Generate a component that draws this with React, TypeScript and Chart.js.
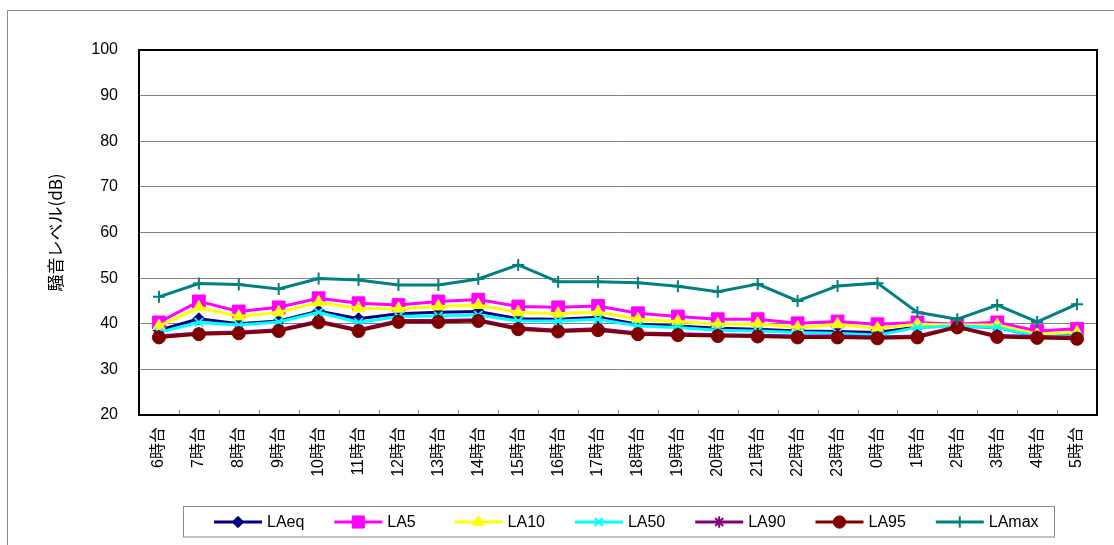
import React, { useEffect, useRef } from "react";
import { Chart, registerables } from "chart.js";
import { drawPoint } from "chart.js/helpers";

Chart.register(...registerables);

const hours: string[] = [
  "6時台", "7時台", "8時台", "9時台", "10時台", "11時台", "12時台", "13時台",
  "14時台", "15時台", "16時台", "17時台", "18時台", "19時台", "20時台", "21時台",
  "22時台", "23時台", "0時台", "1時台", "2時台", "3時台", "4時台", "5時台",
];

const LAeq = [38.6, 41.1, 40.0, 40.6, 42.8, 41.1, 42.2, 42.5, 42.7, 41.1, 41.0, 41.4, 39.9, 39.5, 39.0, 38.8, 38.4, 38.3, 38.1, 39.3, 39.5, 39.2, 37.2, 37.5];
const LA5 = [40.3, 44.9, 42.7, 43.6, 45.6, 44.5, 44.1, 44.9, 45.3, 43.8, 43.6, 43.9, 42.3, 41.6, 41.0, 41.0, 40.1, 40.5, 39.9, 40.3, 39.9, 40.3, 38.4, 38.9];
const LA10 = [39.5, 43.6, 41.6, 42.5, 44.7, 43.4, 43.3, 43.8, 44.1, 42.5, 42.2, 42.6, 41.0, 40.5, 39.9, 40.0, 39.2, 39.9, 39.0, 39.9, 39.7, 39.7, 37.7, 38.1];
const LA50 = [38.1, 40.3, 39.7, 40.4, 42.5, 40.3, 41.6, 41.7, 41.9, 40.6, 40.6, 41.0, 39.5, 39.2, 38.6, 38.4, 38.1, 37.9, 37.5, 39.2, 39.5, 39.2, 37.2, 37.3];
const LA90 = [37.3, 38.0, 38.2, 38.7, 40.6, 38.7, 40.7, 40.7, 40.9, 39.1, 38.6, 38.9, 38.0, 37.8, 37.6, 37.5, 37.3, 37.3, 37.1, 37.3, 39.4, 37.4, 37.2, 37.0];
const LA95 = [37.0, 37.7, 37.9, 38.4, 40.3, 38.4, 40.4, 40.4, 40.6, 38.8, 38.3, 38.6, 37.7, 37.5, 37.3, 37.2, 37.0, 37.0, 36.8, 37.0, 39.2, 37.1, 36.9, 36.7];
const LAmax = [45.9, 48.8, 48.6, 47.6, 49.9, 49.6, 48.5, 48.5, 49.8, 52.9, 49.2, 49.2, 49.0, 48.2, 47.0, 48.7, 45.0, 48.3, 48.9, 42.5, 41.0, 44.1, 40.4, 44.3];

const yTicks = [20, 30, 40, 50, 60, 70, 80, 90, 100];
const yTitle = "騒音レベル(dB)";

const FONT = "'Liberation Sans', Arial, 'Noto Sans CJK JP', sans-serif";

type S = {
  label: string;
  data: number[];
  color: string;
  fill: string;
  style: string;
  radius: number;
  bw: number;
};

const series: S[] = [
  { label: "LAeq", data: LAeq, color: "#000080", fill: "#000080", style: "rectRot", radius: 6, bw: 1 },
  { label: "LA5", data: LA5, color: "#FF00FF", fill: "#FF00FF", style: "rect", radius: 9, bw: 1 },
  { label: "LA10", data: LA10, color: "#FFFF00", fill: "#FFFF00", style: "triangle", radius: 7, bw: 1 },
  { label: "LA50", data: LA50, color: "#00FFFF", fill: "#00FFFF", style: "crossRot", radius: 6, bw: 2 },
  { label: "LA90", data: LA90, color: "#800080", fill: "#800080", style: "star", radius: 6, bw: 2 },
  { label: "LA95", data: LA95, color: "#800000", fill: "#800000", style: "circle", radius: 6.5, bw: 1 },
  { label: "LAmax", data: LAmax, color: "#008080", fill: "#008080", style: "cross", radius: 6, bw: 2 },
];

const decorPlugin = {
  id: "decor",
  afterDraw(chart: any) {
    const ctx = chart.ctx as CanvasRenderingContext2D;
    const a = chart.chartArea;
    ctx.save();
    // outer frame (left + top)
    ctx.strokeStyle = "#888888";
    ctx.lineWidth = 1;
    ctx.beginPath();
    ctx.moveTo(7.5, 545);
    ctx.lineTo(7.5, 10.5);
    ctx.lineTo(1114, 10.5);
    ctx.stroke();

    // inner x tick marks
    ctx.strokeStyle = "#808080";
    ctx.lineWidth = 1;
    const n = hours.length;
    const w = (a.right - a.left) / n;
    ctx.beginPath();
    for (let i = 1; i < n; i++) {
      const x = Math.round(a.left + i * w) + 0.5;
      ctx.moveTo(x, a.bottom);
      ctx.lineTo(x, a.bottom - 5);
    }
    ctx.stroke();

    // plot frame
    ctx.strokeStyle = "#000000";
    ctx.lineWidth = 2;
    ctx.strokeRect(a.left, a.top, a.right - a.left, a.bottom - a.top);

    // legend
    const bx = 183.5, by = 506.5, bw = 871, bh = 30.5;
    ctx.strokeStyle = "#888888";
    ctx.lineWidth = 1;
    ctx.strokeRect(bx, by, bw, bh);
    const cy = 522;
    const startX = 214;
    const step = 120.3;
    ctx.font = "16px " + FONT;
    ctx.textBaseline = "middle";
    ctx.textAlign = "left";
    series.forEach((s, i) => {
      const x1 = startX + i * step;
      const x2 = x1 + 48;
      ctx.strokeStyle = s.color;
      ctx.lineWidth = 3;
      ctx.beginPath();
      ctx.moveTo(x1, cy);
      ctx.lineTo(x2, cy);
      ctx.stroke();
      ctx.fillStyle = s.fill;
      ctx.strokeStyle = s.color;
      ctx.lineWidth = s.bw;
      drawPoint(ctx, { pointStyle: s.style as any, radius: s.radius * 0.95, borderWidth: s.bw, rotation: 0 }, (x1 + x2) / 2, cy);
      ctx.fillStyle = "#000000";
      ctx.fillText(s.label, x2 + 5, cy + 1);
    });
    ctx.restore();
  },
};

export default function App() {
  const ref = useRef<HTMLCanvasElement | null>(null);
  useEffect(() => {
    if (!ref.current) return;
    const chart = new Chart(ref.current, {
      type: "line",
      data: {
        labels: hours,
        datasets: series.map((s, i) => ({
          label: s.label,
          data: s.data,
          borderColor: s.color,
          backgroundColor: s.fill,
          borderWidth: 3,
          pointStyle: s.style as any,
          pointRadius: s.radius,
          pointBorderWidth: s.bw,
          pointBackgroundColor: s.fill,
          pointBorderColor: s.color,
          tension: 0,
          order: series.length - i,
        })),
      },
      options: {
        responsive: false,
        animation: false,
        events: [],
        layout: { padding: { left: 45, top: 50, right: 17, bottom: 0 } },
        plugins: {
          legend: { display: false },
          tooltip: { enabled: false },
        },
        scales: {
          x: {
            offset: true,
            grid: { display: false, drawTicks: false },
            border: { display: true, color: "#000000", width: 2 },
            ticks: {
              autoSkip: false,
              minRotation: 90,
              maxRotation: 90,
              padding: 12,
              color: "#000000",
              font: { size: 16, family: FONT },
            },
            afterFit: (scale: any) => {
              scale.height = 130;
            },
          },
          y: {
            min: 20,
            max: 100,
            afterBuildTicks: (scale: any) => {
              scale.ticks = yTicks.map((v) => ({ value: v }));
            },
            grid: { color: "#808080", lineWidth: 1, drawTicks: false },
            border: { display: true, color: "#000000", width: 2 },
            ticks: {
              padding: 21,
              color: "#000000",
              font: { size: 16, family: FONT },
            },
            title: {
              display: true,
              text: yTitle,
              color: "#000000",
              font: { size: 17, family: "'Noto Sans CJK JP', sans-serif" },
              padding: { top: 0, bottom: 0 },
            },
            afterFit: (scale: any) => {
              scale.width = 94;
            },
          },
        },
      },
      plugins: [decorPlugin],
    });
    return () => chart.destroy();
  }, []);
  return (
    <div style={{ position: "absolute", left: 0, top: 0, width: 1114, height: 545, background: "#ffffff" }}>
      <canvas ref={ref} width={1114} height={545} style={{ display: "block", width: 1114, height: 545 }} />
    </div>
  );
}
